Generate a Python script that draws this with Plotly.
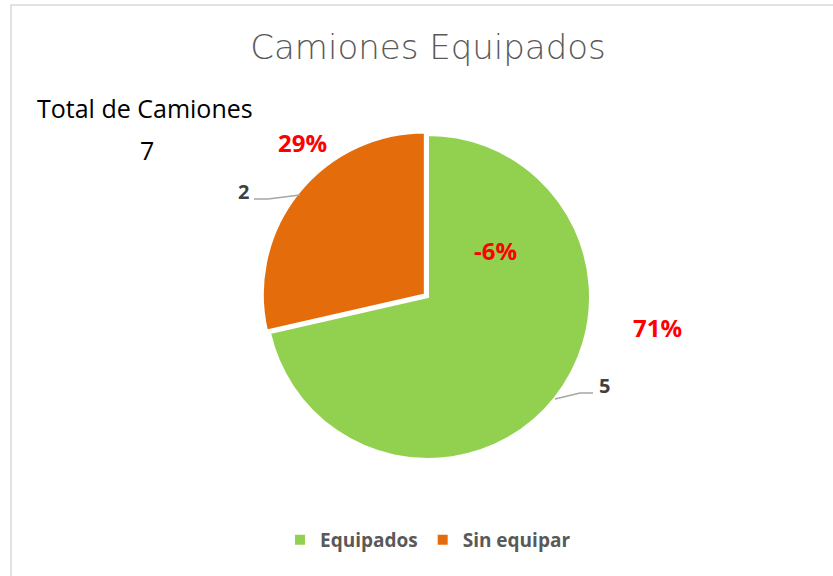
import plotly.graph_objects as go

# ---- data ----
categories = ["Equipados", "Sin equipar"]
values = [5, 2]
colors = ["#92D050", "#E46C0A"]
pct_labels = ["71%", "29%"]
extra_label = "-6%"
total_label = "Total de Camiones"
total_value = sum(values)
title_text = "Camiones Equipados"

W, H = 833, 576


def px(x):
    return x / W


def py(y):
    return 1 - y / H


# pie geometry (pixels in the window)
cx, cy, r = 428, 297, 162
pull = 0.025
half = r * (1 + pull)

fig = go.Figure(
    go.Pie(
        labels=categories,
        values=values,
        marker=dict(colors=colors, line=dict(color="white", width=2)),
        sort=False,
        direction="clockwise",
        rotation=0,
        pull=[0, pull],
        textinfo="none",
        hoverinfo="label+value+percent",
        domain=dict(x=[px(cx - half), px(cx + half)], y=[py(cy + half), py(cy - half)]),
    )
)

red = dict(family="Open Sans", size=24, color="#FF0000", weight="bold")
grey = dict(family="Open Sans", size=20, color="#404040", weight="bold")
black = dict(family="Open Sans", size=25, color="#000000")

annotations = [
    dict(x=px(302), y=py(143), text=pct_labels[1], font=red),
    dict(x=px(496), y=py(250), text=extra_label, font=red),
    dict(x=px(657), y=py(327), text=pct_labels[0], font=red),
    dict(x=px(244), y=py(192), text=str(values[1]), font=grey),
    dict(x=px(604), y=py(385), text=str(values[0]), font=grey),
    dict(x=px(145), y=py(108), text=total_label, font=black),
    dict(x=px(147), y=py(150), text=str(total_value), font=black),
]
for a in annotations:
    a.update(xref="paper", yref="paper", showarrow=False, xanchor="center", yanchor="middle")


def path(pts):
    return "M " + " L ".join(f"{px(x)},{py(y)}" for x, y in pts)


shapes = [
    dict(type="rect", xref="paper", yref="paper", x0=px(11), y0=py(700), x1=px(900), y1=py(5),
         line=dict(color="#D9D9D9", width=1.5), fillcolor="rgba(0,0,0,0)", layer="below"),
    dict(type="path", xref="paper", yref="paper", path=path([(254, 199), (268, 199), (300, 195)]),
         line=dict(color="#A6A6A6", width=1.5)),
    dict(type="path", xref="paper", yref="paper", path=path([(555, 399), (580, 393), (593, 393)]),
         line=dict(color="#A6A6A6", width=1.5)),
]

fig.update_layout(
    width=W,
    height=H,
    margin=dict(l=0, r=0, t=0, b=0),
    paper_bgcolor="white",
    plot_bgcolor="white",
    title=dict(text=title_text, x=px(428), y=py(47), xanchor="center", yanchor="middle",
               font=dict(family="DejaVu Sans", size=34, color="#595959", weight=200)),
    showlegend=True,
    legend=dict(orientation="h", x=px(428), y=py(540), xanchor="center", yanchor="middle",
                font=dict(family="Open Sans", size=19, color="#595959", weight="bold"),
                itemwidth=30, traceorder="normal"),
    annotations=annotations,
    shapes=shapes,
)

fig.write_html(
    "out.html",
    config={"displayModeBar": False},
    post_script="document.body.style.margin='0';document.body.style.overflow='hidden';",
)
